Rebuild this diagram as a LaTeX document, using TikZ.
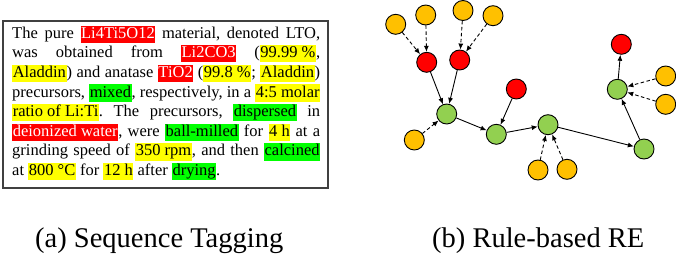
\documentclass[tikz,border=0pt]{standalone}
\usepackage{fontspec}
\setmainfont{Liberation Serif}
\usetikzlibrary{arrows.meta}
\definecolor{hlred}{HTML}{FF0000}
\definecolor{hlyellow}{HTML}{FFFF00}
\definecolor{hlgreen}{HTML}{00FF00}
\definecolor{nodeorange}{HTML}{FFC000}
\definecolor{nodered}{HTML}{FF0000}
\definecolor{nodegreen}{HTML}{92D050}
\definecolor{boxgray}{HTML}{404040}
\newcommand\hlbox[2]{{\setlength\fboxsep{0.6pt}\colorbox{#1}{\rule[-4pt]{0pt}{16pt}#2}}}
\newcommand\hy[1]{\hlbox{hlyellow}{#1}}
\newcommand\hg[1]{\hlbox{hlgreen}{#1}}
\newcommand\hr[1]{\hlbox{hlred}{\color{white}#1}}
\tikzset{
  ent/.style={circle, draw=black, line width=0.9pt, minimum size=20pt, inner sep=0pt},
  orangent/.style={ent, fill=nodeorange},
  redent/.style={ent, fill=nodered},
  greenent/.style={ent, fill=nodegreen},
  rel/.style={line width=0.9pt, -{Latex[length=6pt,width=5pt]}},
  attr/.style={rel, dashed, dash pattern=on 3.5pt off 2.5pt},
  caption/.style={font=\fontsize{28.5}{31}\selectfont, anchor=base west, inner sep=0pt}
}
\begin{document}
\begin{tikzpicture}[x=1pt, y=-1pt]
\useasboundingbox (0,0) rectangle (676,270);
% text box
\draw[boxgray, line width=1.5pt] (3,21) rectangle (328,188);
\node[anchor=north west, inner sep=0pt, text width=308pt, align=justify,
      font=\fontsize{16.5}{19.6}\selectfont] (txt) at (12,25.5) {%
\frenchspacing\emergencystretch=3em\hbadness=10000
The pure \hr{Li4Ti5O12} material, denoted LTO,\linebreak
was obtained from \hr{Li2CO3} (\hy{99.99 \%},\linebreak
\hy{Aladdin}) and anatase \hr{TiO2} (\hy{99.8 \%}; \hy{Aladdin})\linebreak
precursors, \hg{mixed}, respectively, in a \hy{4:5 molar}\linebreak
\hy{ratio of Li:Ti}. The precursors, \hg{dispersed} in\linebreak
\hr{deionized water}, were \hg{ball-milled} for \hy{4 h} at a\linebreak
grinding speed of \hy{350 rpm}, and then \hg{calcined}\linebreak
at \hy{800 °C} for \hy{12 h} after \hg{drying}.\par};
% graph nodes
\node[orangent] (o1) at (395.7,24.3) {};
\node[orangent] (o2) at (425.7,15) {};
\node[orangent] (o3) at (463,10.5) {};
\node[orangent] (o4) at (493,15.7) {};
\node[redent] (r1) at (426.7,62.3) {};
\node[redent] (r2) at (459.7,60) {};
\node[greenent] (g1) at (446.7,114) {};
\node[orangent] (o5) at (414.3,140) {};
\node[redent] (r3) at (516.3,89) {};
\node[greenent] (g2) at (496.3,134.3) {};
\node[greenent] (g3) at (548,124.7) {};
\node[orangent] (o6) at (538,170) {};
\node[orangent] (o7) at (567,169.3) {};
\node[greenent] (g4) at (644,149) {};
\node[greenent] (g5) at (617.3,89.3) {};
\node[redent] (r4) at (621.3,44.3) {};
\node[orangent] (o8) at (665.7,76) {};
\node[orangent] (o9) at (665.7,104.3) {};
% edges
\draw[attr] (o1) -- (r1);
\draw[attr] (o2) -- (r1);
\draw[attr] (o3) -- (r2);
\draw[attr] (o4) -- (r2);
\draw[rel] (r1) -- (g1);
\draw[rel] (r2) -- (g1);
\draw[attr] (o5) -- (g1);
\draw[rel] (g1) -- (g2);
\draw[rel] (r3) -- (g2);
\draw[rel] (g2) -- (g3);
\draw[attr] (o6) -- (g3);
\draw[attr] (o7) -- (g3);
\draw[rel] (g3) -- (g4);
\draw[rel] (g4) -- (g5);
\draw[rel] (g5) -- (r4);
\draw[attr] (o8) -- (g5);
\draw[attr] (o9) -- (g5);
% captions
\node[caption] (capa) at (35,247.5) {(a) Sequence Tagging};
\node[caption] (capb) at (432,247.5) {(b) Rule-based RE};
\end{tikzpicture}
\end{document}
